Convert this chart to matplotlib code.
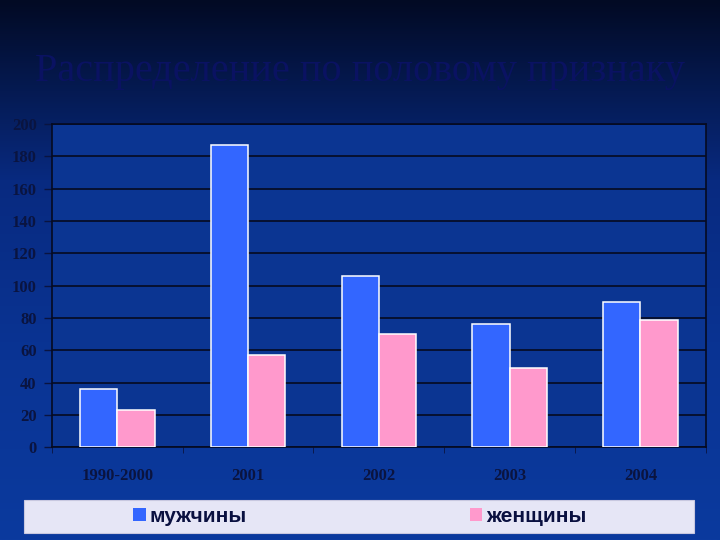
import numpy as np
import matplotlib
matplotlib.use("Agg")
import matplotlib.pyplot as plt
from matplotlib.colors import LinearSegmentedColormap
from matplotlib.patches import Rectangle

# Данные графика
kategorii = ["1990-2000", "2001", "2002", "2003", "2004"]
muzhchiny = [36, 187, 106, 76, 90]
zhenshchiny = [23, 57, 70, 49, 79]
yticks = [0, 20, 40, 60, 80, 100, 120, 140, 160, 180, 200]

fig = plt.figure(figsize=(7.2, 5.4), dpi=100)

# Фон с градиентом
bg = fig.add_axes([0, 0, 1, 1], zorder=-10)
cmap = LinearSegmentedColormap.from_list("fon", ["#020a24", "#082a80", "#0a3494", "#0b3a9e"])
grad = np.linspace(0, 1, 256).reshape(-1, 1)
bg.imshow(grad, aspect="auto", cmap=cmap, extent=[0, 1, 0, 1])
bg.set_axis_off()

fig.text(0.5, 0.868, "Распределение по половому признаку", ha="center", va="center",
         fontsize=29, family="Liberation Serif", color="#0a1262")

ax = fig.add_axes([0.0722, 0.172, 0.908, 0.598])
ax.set_facecolor("#0b3592")

x = np.arange(len(kategorii))
w = 0.285
ax.bar(x - w / 2, muzhchiny, w, color="#3366ff", edgecolor="white", linewidth=1.1,
       label="мужчины", zorder=3)
ax.bar(x + w / 2, zhenshchiny, w, color="#ff99cc", edgecolor="white", linewidth=1.1,
       label="женщины", zorder=3)

ax.set_xlim(-0.5, len(kategorii) - 0.5)
ax.set_ylim(0, 200)
ax.set_yticks(yticks)
ax.set_yticklabels([str(v) for v in yticks], family="Liberation Serif",
                   fontweight="bold", fontsize=12, color="#0a1440")
ax.set_xticks(x)
ax.set_xticklabels(kategorii, family="Liberation Serif", fontweight="bold",
                   fontsize=12, color="#0a1440")
ax.tick_params(axis="x", length=0, pad=15)
ax.set_xticks(np.arange(-0.5, len(kategorii)), minor=True)
ax.tick_params(axis="x", which="minor", length=4, color="#0a1440")
ax.tick_params(axis="y", length=6, color="#0a1440", width=1, pad=5)
ax.grid(axis="y", color="#050a20", linewidth=1.2, zorder=0)
for s in ax.spines.values():
    s.set_color("#050a20")
    s.set_linewidth(1.2)

# Легенда
fig.patches.append(Rectangle((24 / 720, 7 / 540), 670 / 720, 33 / 540,
                             transform=fig.transFigure, facecolor="#e6e6f6",
                             edgecolor="#c8c8e0", linewidth=0.8, zorder=1))
h, l = ax.get_legend_handles_labels()
leg = fig.legend(h, l, loc="center", bbox_to_anchor=(0.5, 23.5 / 540), ncol=2,
                 frameon=False, columnspacing=10.7, handlelength=0.6, handleheight=0.6,
                 handletextpad=0.2, prop={"family": "Liberation Sans", "weight": "bold", "size": 15})
for t in leg.get_texts():
    t.set_color("#0a1040")
for p in leg.legend_handles:
    p.set_edgecolor("none")

fig.savefig("out.png", dpi=100)
